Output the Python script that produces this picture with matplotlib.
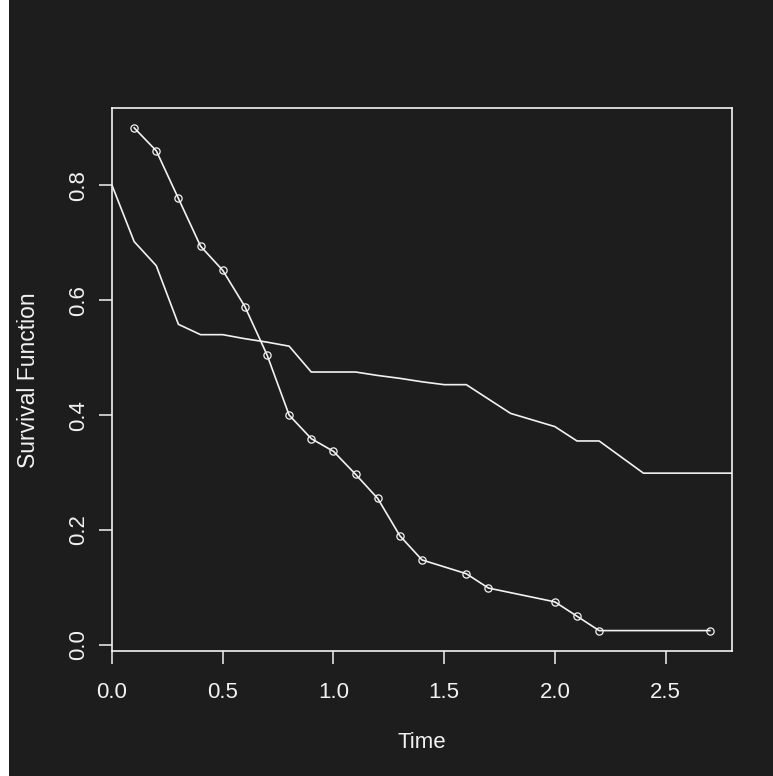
import matplotlib
matplotlib.use("Agg")
import matplotlib.pyplot as plt
from matplotlib.patches import Rectangle
from matplotlib.transforms import Affine2D

# Series with open-circle markers
time_a = [0.1, 0.2, 0.3, 0.4, 0.5, 0.6, 0.7, 0.8, 0.9, 1.0, 1.1, 1.2, 1.3, 1.4,
          1.6, 1.7, 2.0, 2.1, 2.2, 2.7]
surv_a = [0.900, 0.860, 0.777, 0.694, 0.652, 0.589, 0.505, 0.400, 0.359, 0.337,
          0.297, 0.255, 0.190, 0.148, 0.124, 0.099, 0.075, 0.050, 0.025, 0.025]

# Plain line series
time_b = [0.0, 0.1, 0.2, 0.3, 0.4, 0.5, 0.6, 0.7, 0.8, 0.9, 1.0, 1.1, 1.2, 1.3,
          1.4, 1.5, 1.6, 1.8, 2.0, 2.1, 2.2, 2.4, 2.8]
surv_b = [0.800, 0.702, 0.660, 0.558, 0.540, 0.540, 0.533, 0.527, 0.520, 0.475,
          0.475, 0.475, 0.469, 0.464, 0.458, 0.453, 0.453, 0.403, 0.380, 0.355,
          0.355, 0.299, 0.299]

x_ticks = [0.0, 0.5, 1.0, 1.5, 2.0, 2.5]
x_tick_labels = ["0.0", "0.5", "1.0", "1.5", "2.0", "2.5"]
y_ticks = [0.0, 0.2, 0.4, 0.6, 0.8]
y_tick_labels = ["0.0", "0.2", "0.4", "0.6", "0.8"]

BG = "#1d1d1d"
FG = "#f2f2f2"
W, H = 773, 776

plt.rcParams['font.family'] = ['Liberation Sans', 'DejaVu Sans']

fig = plt.figure(figsize=(W / 100, H / 100), dpi=100, facecolor=BG)
# thin white strip at the left edge
fig.patches.append(Rectangle((0, 0), 8.5 / W, 1, transform=fig.transFigure,
                             facecolor="white", edgecolor="none", zorder=-10))

left, right = 112 / W, 732 / W
top, bottom = 1 - 107.7 / H, 1 - 650.7 / H
ax = fig.add_axes([left, bottom, right - left, top - bottom], facecolor=BG)

ax.plot(time_b, surv_b, color=FG, lw=1.2, solid_joinstyle='round')
ax.plot(time_a, surv_a, color=FG, lw=1.2, marker='o', markersize=5.2,
        markerfacecolor='none', markeredgecolor=FG, markeredgewidth=0.9)

ax.set_xlim(0, 2.8)
ax.set_ylim(-0.01, 0.935)

ax.set_xticks(x_ticks)
ax.set_xticklabels(x_tick_labels)
ax.set_yticks(y_ticks)
ax.set_yticklabels(y_tick_labels, rotation=90, va='center')

for s in ax.spines.values():
    s.set_color(FG)
    s.set_linewidth(1.2)

ax.tick_params(axis='both', colors=FG, direction='out', length=9.4, width=1.1,
               labelsize=16)
ax.tick_params(axis='x', pad=13)
ax.tick_params(axis='y', pad=7)

ax.set_xlabel("Time", color=FG, fontsize=16)
ax.set_ylabel("Survival Function", color=FG, fontsize=16.5)
to_fig = Affine2D().scale(1 / W, -1 / H).translate(0, 1) + fig.transFigure
ax.xaxis.set_label_coords(422, 743, transform=to_fig)
ax.yaxis.set_label_coords(29, 380, transform=to_fig)
ax.xaxis.label.set_va('center')
ax.xaxis.label.set_ha('center')
ax.yaxis.label.set_va('center')
ax.yaxis.label.set_ha('center')
ax.yaxis.label.set_rotation_mode('default')

fig.savefig("out.png", dpi=100, facecolor=BG)
